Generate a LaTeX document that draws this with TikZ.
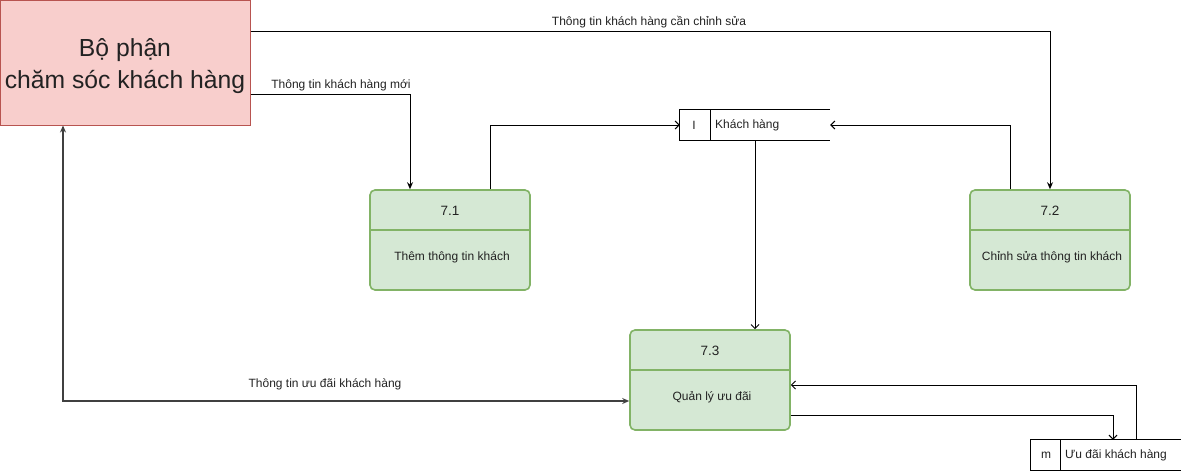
\documentclass[tikz,border=0pt]{standalone}
\usepackage{fontspec}
\setmainfont{Liberation Sans}
\usetikzlibrary{arrows.meta}
\definecolor{entfill}{HTML}{F8CECC}
\definecolor{entdraw}{HTML}{B85450}
\definecolor{procfill}{HTML}{D5E8D4}
\definecolor{procdraw}{HTML}{82B366}
\definecolor{txt}{HTML}{222222}
\tikzset{
  entity/.style={draw=entdraw, fill=entfill, line width=1pt, minimum width=250pt, minimum height=125pt, inner sep=0pt},
  enttext/.style={align=center, font=\fontsize{24.7}{32}\selectfont, text=txt, inner sep=0pt},
  proc/.style={draw=procdraw, fill=procfill, line width=1.6pt, rounded corners=5pt, minimum width=160pt, minimum height=100pt, inner sep=0pt},
  divline/.style={draw=procdraw, line width=1.2pt},
  numtxt/.style={font=\fontsize{13.5}{15}\selectfont, text=txt, inner sep=0pt},
  ptxt/.style={font=\fontsize{12}{14}\selectfont, text=txt, inner sep=0pt},
  lbl/.style={font=\fontsize{12}{14}\selectfont, text=txt, inner sep=1pt},
  store/.style={minimum height=30pt, inner sep=0pt},
  sline/.style={draw=black, line width=1pt},
  fa/.style={draw=black, line width=1pt, -{Stealth[length=7pt,width=6pt]}},
  fab/.style={draw=black!75, line width=1.2pt, {Stealth[length=7pt,width=6pt]}-{Stealth[length=7pt,width=6pt]}},
  oa/.style={draw=black, line width=1pt, -{Straight Barb[length=4pt,width=8pt]}},
}
\begin{document}
\begin{tikzpicture}[x=1pt, y=-1pt]
\useasboundingbox (0,0) rectangle (1181,471);
% external entity
\node[entity] (entity) at (125,62.5) {};
\node[enttext] (entitytxt) at (125,66.5) {Bộ phận\\chăm sóc khách hàng};
% processes
\node[proc] (p71) at (450,240) {};
\draw[divline] (p71.west |- 0,230) -- (p71.east |- 0,230);
\node[numtxt] (p71n) at (450,211) {7.1};
\node[ptxt] (p71t) at (452,257) {Thêm thông tin khách};
\node[proc] (p72) at (1050,240) {};
\draw[divline] (p72.west |- 0,230) -- (p72.east |- 0,230);
\node[numtxt] (p72n) at (1050,211) {7.2};
\node[ptxt] (p72t) at (1052,257) {Chỉnh sửa thông tin khách};
\node[proc] (p73) at (710,380) {};
\draw[divline] (p73.west |- 0,370) -- (p73.east |- 0,370);
\node[numtxt] (p73n) at (710,351) {7.3};
\node[ptxt] (p73t) at (712,397) {Quản lý ưu đãi};
% data stores
\node[store, minimum width=150pt] (ds1) at (755,125) {};
\draw[sline] (ds1.north east) -- (ds1.north west) -- (ds1.south west) -- (ds1.south east);
\draw[sline] (ds1.north west -| 710,0) -- (ds1.south west -| 710,0);
\node[ptxt, anchor=center] (ds1i) at (694,125) {I};
\node[ptxt, anchor=west] (ds1t) at (715,125) {Khách hàng};
\node[store, minimum width=150pt] (ds2) at (1106,455) {};
\draw[sline] (ds2.north east) -- (ds2.north west) -- (ds2.south west) -- (ds2.south east);
\draw[sline] (ds2.north west -| 1060,0) -- (ds2.south west -| 1060,0);
\node[ptxt, anchor=center] (ds2i) at (1046,455) {m};
\node[ptxt, anchor=west] (ds2t) at (1065,455) {Ưu đãi khách hàng};
% flows
\draw[fa] (entity.east |- 0,31) -| (p72.north -| 1050,0);
\node[lbl, fill=white, inner ysep=2pt] (l1) at (649,22.5) {Thông tin khách hàng cần chỉnh sửa};
\draw[fa] (entity.east |- 0,94) -| (p71.north -| 410,0);
\node[lbl] (l2) at (341,85) {Thông tin khách hàng mới};
\draw[oa] (p71.north -| 490,0) |- (ds1.west);
\draw[oa] (p72.north -| 1010,0) |- (ds1.east);
\draw[oa] (ds1.south) -- (ds1.south |- p73.north);
\draw[fab] (p73.west |- 0,401) -| (entity.south -| 63,0);
\node[lbl] (l3) at (325,384) {Thông tin ưu đãi khách hàng};
\draw[oa] (p73.east |- 0,415) -| (ds2.north -| 1113,0);
\draw[oa] (ds2.north -| 1136,0) |- (p73.east |- 0,385);
\end{tikzpicture}
\end{document}
